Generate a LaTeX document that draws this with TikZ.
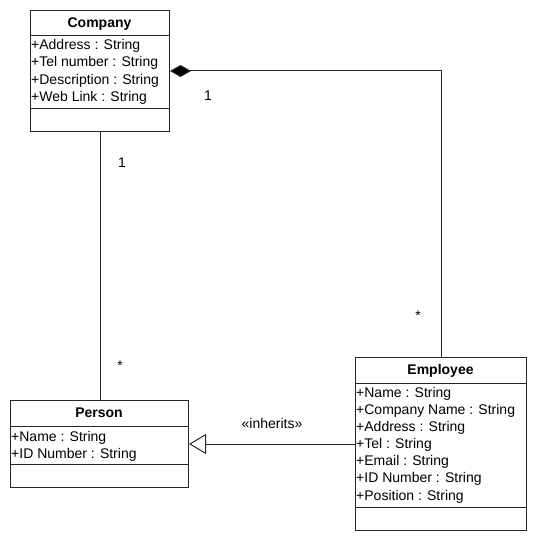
\documentclass[tikz,border=0pt]{standalone}
\usepackage{fontspec}
\setmainfont{Liberation Sans}
\usetikzlibrary{arrows.meta}
\begin{document}
\begin{tikzpicture}[x=1pt,y=-1pt,
  classbox/.style={draw=black!85,line width=1pt,fill=white,anchor=north west,inner sep=0pt,minimum width=#1},
  sep/.style={draw=black!85,line width=1pt},
  conn/.style={draw=black!85,line width=1pt},
  title/.style={font=\fontsize{14}{16}\selectfont\bfseries,anchor=base,inner sep=0pt},
  attr/.style={font=\fontsize{14}{16}\selectfont,anchor=base west,inner sep=0pt},
  lbl/.style={font=\fontsize{14}{16}\selectfont,anchor=base,inner sep=0pt}]
\useasboundingbox[fill=white] (0,0) rectangle (542,545);
% Company
\node[classbox=139pt,minimum height=121pt] (co) at (30,10) {};
\draw[sep] (30,36) -- (169,36);
\draw[sep] (30,109) -- (169,109);
\node[title] (cot) at (99.5,28) {Company};
\node[attr] (coa1) at (31,50) {+Address : String};
\node[attr] (coa2) at (31,67) {+Tel number : String};
\node[attr] (coa3) at (31,85) {+Description : String};
\node[attr] (coa4) at (31,102) {+Web Link : String};
% Employee
\node[classbox=171pt,minimum height=173pt] (emp) at (355,357) {};
\draw[sep] (355,383) -- (526,383);
\draw[sep] (355,507) -- (526,507);
\node[title] (empt) at (440.5,374) {Employee};
\node[attr] (ea1) at (356,397) {+Name : String};
\node[attr] (ea2) at (356,414) {+Company Name : String};
\node[attr] (ea3) at (356,431) {+Address : String};
\node[attr] (ea4) at (356,448) {+Tel : String};
\node[attr] (ea5) at (356,465) {+Email : String};
\node[attr] (ea6) at (356,482) {+ID Number : String};
\node[attr] (ea7) at (356,500) {+Position : String};
% Person
\node[classbox=178pt,minimum height=87pt] (per) at (10,400) {};
\draw[sep] (10,426) -- (188,426);
\draw[sep] (10,464) -- (188,464);
\node[title] (pert) at (99,417) {Person};
\node[attr] (pa1) at (11,441) {+Name : String};
\node[attr] (pa2) at (11,458) {+ID Number : String};
% connectors
\draw[conn,{Diamond[length=21pt,width=12pt,fill=black]}-] (co.east) -| (emp.north);
\draw[conn] (co.south) -- (co.south |- per.north);
\draw[conn,-{Triangle[open,length=17pt,width=20pt,fill=white]}] (emp.west) -- (per.east);
% labels
\node[lbl] (m1) at (208,101) {1};
\node[lbl] (m2) at (122,168) {1};
\node[lbl] (m3) at (120,370) {*};
\node[lbl] (m4) at (418,320) {*};
\node[lbl] (inh) at (272,428) {«inherits»};
\end{tikzpicture}
\end{document}
